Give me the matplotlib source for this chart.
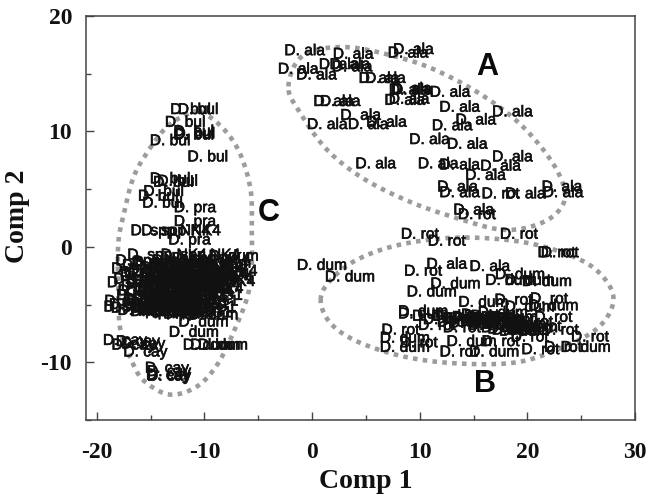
import numpy as np
import matplotlib
matplotlib.use('Agg')
import matplotlib.pyplot as plt
import matplotlib.patheffects as pe

# Score positions per species
ala_x = [-0.7, 3.8, 8.9, 9.4, -1.3, 0.4, 2.5, 3.7, 3.5, 6.2, 6.8, 9.0, 9.2, 9.3, 12.8, 2.0, 2.6, 8.6, 9.0,
         13.7, 18.6, 15.2, 4.5, 1.4, 5.2, 6.9, 13.0, 10.9, 14.4, 18.6, 5.9, 11.7, 13.7, 17.5, 16.1, 13.5,
         13.7, 19.8, 23.2, 23.3, 15.0, 12.5, 16.5]
ala_y = [17.0, 16.7, 16.8, 17.1, 15.4, 14.9, 15.8, 15.6, 15.8, 14.6, 14.6, 13.6, 13.7, 13.6, 13.4, 12.6, 12.6,
         12.7, 12.8, 12.1, 11.7, 11.0, 11.4, 10.6, 10.6, 10.8, 10.5, 9.3, 8.9, 7.8, 7.2, 7.2, 7.1, 7.0, 6.2,
         5.2, 4.7, 4.6, 5.2, 4.7, 3.2, -1.5, -1.7]

rot_x = [15.3, 17.5, 10.0, 12.5, 19.2, 22.7, 23.0, 10.3, 22.0, 22.4, 23.0, 8.2, 11.6, 13.9, 20.2, 25.8, 9.9,
         13.6, 21.2, 23.3, 17.5, 18.7, 17.8, 19.3, 16.5, 18.9, 20.6, 15.6, 21.4, 19.9]
rot_y = [2.8, 4.6, 1.1, 0.5, 1.1, -0.5, -0.5, -2.1, -4.5, -6.1, -7.2, -7.2, -6.8, -7.0, -7.8, -7.8, -8.3,
         -9.1, -8.9, -8.7, -8.2, -4.6, -6.6, -6.9, -6.0, -6.3, -6.5, -5.9, -6.9, -7.2]

dum_x = [0.9, 3.5, 13.3, 11.1, 10.3, 10.3, 8.6, 8.6, 14.8, 16.9, 25.4, 19.3, 18.4, 21.8, 20.2, 15.9, 22.4, 20.2,
         13.5, 15.3, 17.2, 11.6, 19.0, 20.5, 17.3, 16.1, 18.2, 14.4, 16.8, 18.6, 12.6, 13.9, 15.0, 16.4, 17.7,
         19.4, 18.0, 19.7, 18.6,
         -11.0, -10.1, -9.2, -9.7, -8.3, -9.0, -11.5, -7.3, -8.0]
dum_y = [-1.6, -2.6, -3.2, -3.9, -5.6, -5.8, -7.9, -8.7, -8.2, -9.1, -8.7, -2.4, -2.9, -3.0, -2.9, -4.8, -5.1, -5.2,
         -6.0, -6.1, -6.2, -6.0, -7.2, -7.0, -6.4, -6.4, -6.7, -6.2, -6.8, -7.1, -6.3, -6.5, -6.6, -6.0, -5.7,
         -6.7, -7.0, -7.3, -6.1,
         -7.4, -6.5, -5.9, -8.5, -8.5, -8.5, -5.8, -0.8, -1.4]

bul_x = [-11.3, -10.6, -11.8, -11.0, -10.9, -11.0, -13.2, -9.7, -13.2, -12.9, -12.5, -13.8, -14.3, -13.9]
bul_y = [11.9, 11.9, 10.8, 10.0, 9.8, 9.7, 9.2, 7.8, 5.9, 5.6, 5.7, 4.8, 4.4, 3.8]

pra_x = [-10.9, -10.9, -11.4]
pra_y = [3.4, 2.2, 0.6]

nk4_x = [-13.2, -12.2, -13.5, -10.4, -14.6, -13.0, -11.2, -9.6, -15.0, -13.4, -11.6, -10.0, -8.8, -14.2, -12.4,
         -10.8, -9.2, -15.4, -13.6, -12.0, -10.4, -9.0, -14.4, -12.6, -11.0, -14.0, -12.8, -11.5, -10.2, -9.4,
         -13.8, -12.2, -10.9, -9.7, -14.8, -13.1, -11.8, -10.6, -9.5, -12.5, -11.3, -10.1, -14.1, -12.9, -11.7]
nk4_y = [1.4, 1.4, -0.7, -0.7, -1.2, -1.3, -1.2, -1.4, -1.9, -2.0, -1.9, -2.0, -2.1, -2.5, -2.6, -2.6, -2.7,
         -3.1, -3.2, -3.2, -3.3, -3.0, -3.8, -3.8, -3.9, -1.6, -1.6, -1.6, -1.7, -1.0, -2.3, -2.3, -2.3, -2.4,
         -2.8, -2.9, -2.9, -2.9, -2.4, -3.5, -3.5, -3.6, -3.4, -4.3, -4.4]

kg1_x = [-11.0, -11.6, -13.0, -11.5, -13.2, -12.0, -14.5, -15.6, -13.6, -11.9, -15.0, -13.2, -11.2, -10.2, -10.8,
         -12.4, -14.0, -12.6, -10.6, -13.6]
kg1_y = [-3.6, -4.1, -4.3, -4.9, -5.0, -5.0, -4.2, -4.7, -4.6, -5.5, -5.3, -5.6, -5.7, -4.2, -5.2, -4.6, -5.1,
         -5.3, -4.7, -3.9]

cay_x = [-17.4, -16.2, -15.7, -16.6, -15.5, -13.5, -13.3, -13.4, -13.3]
cay_y = [-8.1, -8.2, -8.4, -8.5, -9.1, -10.5, -10.8, -11.1, -11.2]

spp_x = [-16.8, -15.5, -14.0, -12.6, -11.0, -17.3, -16.0, -15.8, -15.2, -14.7]
spp_y = [-5.0, -4.5, -5.5, -5.6, -5.4, -5.2, -5.5, -2.2, -3.0, -1.4]

# Dotted group outlines
outline_a_x = [-2.2, -0.8, 3.2, 8.5, 12.2, 16.2, 19.6, 22.4, 23.5, 22.7, 20.5, 17.5, 13.4, 9.1, 4.8, 1.4, -1.1]
outline_a_y = [13.9, 16.6, 17.3, 16.3, 15.0, 12.9, 10.4, 7.2, 4.6, 2.9, 1.8, 1.5, 2.5, 3.9, 5.9, 8.4, 11.6]
outline_b_x = [0.8, 1.7, 4.2, 8.2, 13.4, 19.0, 23.3, 26.4, 28.0, 26.7, 23.3, 19.0, 13.5, 8.5, 4.2, 1.7]
outline_b_y = [-4.6, -2.9, -1.1, 0.2, 0.8, 0.5, -0.5, -2.0, -4.4, -6.9, -8.7, -10.0, -10.1, -9.5, -8.2, -6.6]
outline_c_x = [-10.4, -8.3, -6.7, -5.7, -5.6, -5.6, -6.0, -7.3, -8.8, -10.7, -13.2, -15.5, -16.6, -17.8, -18.0,
               -18.0, -17.5, -16.6, -15.3, -13.6, -12.0]
outline_c_y = [11.7, 10.3, 8.1, 4.9, 1.5, -1.6, -4.3, -7.4, -10.2, -12.1, -12.8, -11.7, -10.2, -7.2, -3.7,
               0.3, 2.8, 6.0, 8.2, 10.3, 11.3]

groups = ['A', 'B', 'C']
group_x = [16.3, 16.1, -4.0]
group_y = [15.6, -11.9, 2.9]


def smooth_closed(xs, ys, n=12):
    # Catmull-Rom through the outline points
    p = np.column_stack([xs, ys])
    t = np.linspace(0, 1, n, endpoint=False)[:, None]
    out = []
    for i in range(len(p)):
        p0, p1, p2, p3 = p[i - 1], p[i], p[(i + 1) % len(p)], p[(i + 2) % len(p)]
        out.append(0.5 * (2 * p1 + (p2 - p0) * t + (2 * p0 - 5 * p1 + 4 * p2 - p3) * t ** 2
                          + (3 * p1 - p0 - 3 * p2 + p3) * t ** 3))
    out = np.vstack(out)
    return np.append(out[:, 0], out[0, 0]), np.append(out[:, 1], out[0, 1])


fig = plt.figure(figsize=(6.5, 5.01), dpi=100)
ax = fig.add_axes([86 / 650, 81 / 501, 549 / 650, 404 / 501])

for xs, ys in [(outline_a_x, outline_a_y), (outline_b_x, outline_b_y), (outline_c_x, outline_c_y)]:
    sx, sy = smooth_closed(xs, ys)
    ax.plot(sx, sy, color='#9c9c9c', lw=3.3, linestyle=(0, (1, 1.15)), dash_capstyle='butt', zorder=1)

series = [('D. ala', ala_x, ala_y), ('D. rot', rot_x, rot_y), ('D. dum', dum_x, dum_y),
          ('D. bul', bul_x, bul_y), ('D. pra', pra_x, pra_y), ('D. spp NK4', nk4_x, nk4_y),
          ('D. spp KG1', kg1_x, kg1_y), ('D. cay', cay_x, cay_y), ('D. spp', spp_x, spp_y)]
# The scan is soft, so the labels get a thin stroke to look as heavy
heavy = [pe.withStroke(linewidth=0.45, foreground='#111111')]
for name, xs, ys in series:
    for x, y in zip(xs, ys):
        ax.text(x, y, name, ha='center', va='center', fontsize=11.2, family='Liberation Sans',
                color='#111111', zorder=2, path_effects=heavy)

for g, x, y in zip(groups, group_x, group_y):
    ax.text(x, y, g, ha='center', va='center', fontsize=22, fontweight='bold', family='Liberation Sans',
            color='#0a0a0a', zorder=3)

ax.set_xlim(-21, 30)
ax.set_ylim(-15, 20)
ax.set_xticks([-20, -10, 0, 10, 20, 30])
ax.set_xticklabels(['-20', '-10', '0', '10', '20', '30'])
ax.set_yticks([-10, 0, 10, 20])
ax.set_yticklabels(['-10', '0', '10', '20'])
ax.set_xticks([-15, -5, 5, 15, 25], minor=True)
ax.set_yticks([-15, -5, 5, 15], minor=True)

for s in ax.spines.values():
    s.set_color('#444444')
    s.set_linewidth(1.1)
ax.tick_params(axis='both', which='major', direction='in', length=6, width=1, color='#444444')
ax.tick_params(axis='both', which='minor', direction='in', length=3.5, width=1, color='#444444')
ax.tick_params(axis='x', which='major', pad=15.5)
ax.tick_params(axis='y', which='major', pad=10)
for lab in ax.get_xticklabels() + ax.get_yticklabels():
    lab.set_family('Liberation Serif')
    lab.set_fontweight('bold')
    lab.set_fontsize(17)
    lab.set_color('#111111')

fig.text(366 / 650, 1 - 481 / 501, 'Comp 1', ha='center', va='center', fontsize=20, fontweight='bold',
         family='Liberation Serif', color='#111111')
fig.text(18 / 650, 1 - 216 / 501, 'Comp 2', ha='center', va='center', rotation=90, fontsize=20,
         fontweight='bold', family='Liberation Serif', color='#111111')

fig.savefig('out.png', dpi=100)
